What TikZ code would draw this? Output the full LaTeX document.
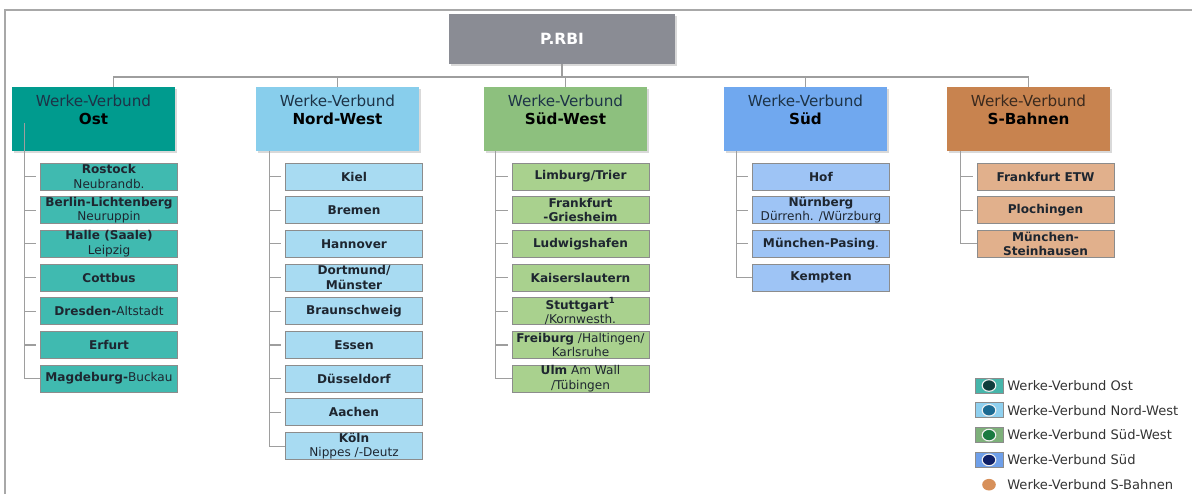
\documentclass[tikz,border=0pt]{standalone}
\usepackage{fontspec}
\setmainfont{DejaVu Sans}
\usetikzlibrary{shadows,shapes.geometric}

\definecolor{rbigray}{HTML}{8A8C94}
\definecolor{ostdark}{HTML}{009B8E}
\definecolor{ostlight}{HTML}{40BAB0}
\definecolor{nwdark}{HTML}{88CEEC}
\definecolor{nwlight}{HTML}{A8DBF2}
\definecolor{swdark}{HTML}{8DC07E}
\definecolor{swlight}{HTML}{A9D18E}
\definecolor{sueddark}{HTML}{70A8EF}
\definecolor{suedlight}{HTML}{9EC4F5}
\definecolor{sbdark}{HTML}{C8834F}
\definecolor{sblight}{HTML}{E1B08C}
\definecolor{linegray}{HTML}{9E9E9E}
\definecolor{framegray}{HTML}{A8A8A8}
\definecolor{kidline}{HTML}{8C8C8C}
\definecolor{headtext}{HTML}{1D3347}
\definecolor{sbtext}{HTML}{3B2A1E}
\definecolor{kidtext}{HTML}{1E2630}
\definecolor{legtextgray}{HTML}{333333}
\definecolor{ostleg}{HTML}{46B5AA}
\definecolor{nwleg}{HTML}{8FD0EF}
\definecolor{swleg}{HTML}{7DB07A}
\definecolor{suedleg}{HTML}{6E9FE9}
\definecolor{ostdot}{HTML}{0F3D3C}
\definecolor{nwdot}{HTML}{1B6A92}
\definecolor{swdot}{HTML}{1A7A40}
\definecolor{sueddot}{HTML}{0E1F66}
\definecolor{sbdot}{HTML}{D7905A}

% text of a Werke-Verbund box, set at its top
\newcommand{\verbund}[2][headtext]{\parbox[c][1.6cm][t]{4.075cm}{\vspace*{6pt}\centering
  \fontsize{10.8}{12.2}\selectfont{\color{#1}Werke-Verbund}\\\textbf{#2}}}

\begin{document}
\begin{tikzpicture}[x=0.025cm,y=-0.025cm,
    conn/.style={draw=linegray,line width=0.75pt},
    head/.style={fill=rbigray,text=white,font=\bfseries\fontsize{11}{13}\selectfont,
      minimum width=5.65cm,minimum height=1.25cm,
      drop shadow={shadow xshift=1.2pt,shadow yshift=-1.2pt,opacity=0.3}},
    verbundbox/.style={inner sep=0pt,
      drop shadow={shadow xshift=1.2pt,shadow yshift=-1.2pt,opacity=0.3}},
    kid/.style={draw=kidline,line width=0.6pt,minimum width=3.425cm,minimum height=0.675cm,
      inner sep=0pt,align=center,text=kidtext,font=\fontsize{8.6}{10.3}\selectfont},
    legbox/.style={draw=kidline,line width=0.5pt,minimum width=0.7cm,minimum height=0.375cm,inner sep=0pt},
    legdot/.style={ellipse,draw=white!88!gray,line width=0.8pt,minimum width=0.34cm,minimum height=0.29cm,inner sep=0pt},
    legtext/.style={anchor=west,inner sep=0pt,text=legtextgray,font=\fontsize{9.3}{11}\selectfont}]

    \useasboundingbox (0,0) rectangle (1192,494);
    %frame
    \draw[framegray,line width=0.8pt] (5,494) -- (5,10) -- (1192,10);

    %top and Werke-Verbund boxes
    \node[head] (prbi) at (562,39) {P.RBI};
    \node[verbundbox,fill=ostdark] (ost) at (93.5,119) {\verbund{Ost}};
    \node[verbundbox,fill=nwdark] (nw) at (337.5,119) {\verbund{Nord-West}};
    \node[verbundbox,fill=swdark] (sw) at (565.5,119) {\verbund{Süd-West}};
    \node[verbundbox,fill=sueddark] (sued) at (805.5,119) {\verbund{Süd}};
    \node[verbundbox,fill=sbdark] (sb) at (1028.5,119) {\verbund[sbtext]{S-Bahnen}};

    \coordinate (bus) at (0,77);
    \draw[conn] (prbi.south) -- (prbi.south |- bus);
    \draw[conn] ([xshift=0.49cm]ost.north) |- (sb.north |- bus) -- (sb.north);
    \foreach \v in {nw,sw,sued}
        \draw[conn] (\v.north) -- (\v.north |- bus);

    %Werke
    \foreach \txt [count=\i] in {{\textbf{Rostock}\\Neubrandb.},{\textbf{Berlin-Lichtenberg}\\Neuruppin},
        {\textbf{Halle (Saale)}\\Leipzig},{\textbf{Cottbus}},{\textbf{Dresden-}Altstadt},
        {\textbf{Erfurt}},{\textbf{Magdeburg-}Buckau}}
        \node[kid,fill=ostlight] (ost\i) at (109,{176.5+33.7*(\i-1)}) {\txt};
    \foreach \txt [count=\i] in {{\textbf{Kiel}},{\textbf{Bremen}},{\textbf{Hannover}},
        {\textbf{Dortmund/}\\\textbf{Münster}},{\textbf{Braunschweig}},{\textbf{Essen}},
        {\textbf{Düsseldorf}},{\textbf{Aachen}},{\textbf{Köln}\\Nippes /-Deutz}}
        \node[kid,fill=nwlight] (nw\i) at (354,{176.5+33.7*(\i-1)}) {\txt};
    \foreach \txt [count=\i] in {{\textbf{Limburg/Trier}},{\textbf{Frankfurt}\\\textbf{-Griesheim}},
        {\textbf{Ludwigshafen}},{\textbf{Kaiserslautern}},{\textbf{Stuttgart\textsuperscript{1}}\\/Kornwesth.},
        {\textbf{Freiburg} /Haltingen/\\Karlsruhe},{\textbf{Ulm} Am Wall\\/Tübingen}}
        \node[kid,fill=swlight] (sw\i) at (580.5,{176.5+33.7*(\i-1)}) {\txt};
    \foreach \txt [count=\i] in {{\textbf{Hof}},{\textbf{Nürnberg}\\Dürrenh. /Würzburg},
        {\textbf{München-Pasing}.},{\textbf{Kempten}}}
        \node[kid,fill=suedlight] (sued\i) at (821,{176.5+33.7*(\i-1)}) {\txt};
    \foreach \txt [count=\i] in {{\textbf{Frankfurt ETW}},{\textbf{Plochingen}},
        {\textbf{München-}\\\textbf{Steinhausen}}}
        \node[kid,fill=sblight] (sb\i) at (1045.5,{176.5+33.7*(\i-1)}) {\txt};

    %spines
    \draw[conn] ([xshift=-0.39cm,yshift=0.7cm]ost1.west |- ost.south) |- (ost7.west);
    \foreach \i in {1,...,6}
        \draw[conn] ([xshift=-0.39cm]ost\i.west) -- ([xshift=-0.1cm]ost\i.west);
    \foreach \col/\n in {nw/9,sw/7,sued/4,sb/3} {
        \draw[conn] ([xshift=-0.39cm]\col1.west |- \col.south) |- (\col\n.west);
        \foreach \i in {1,...,\n}
            \draw[conn] ([xshift=-0.39cm]\col\i.west) -- ([xshift=-0.1cm]\col\i.west);
    }

    %legend
    \foreach \fc/\dc/\txt [count=\i] in {ostleg/ostdot/Ost,nwleg/nwdot/Nord-West,
        swleg/swdot/Süd-West,suedleg/sueddot/Süd} {
        \node[legbox,fill=\fc] (legbox\i) at (989,{385.5+24.8*(\i-1)}) {};
        \node[legdot,fill=\dc] (legdot\i) at (legbox\i) {};
        \node[legtext] (leg\i) at (1007,{385.5+24.8*(\i-1)}) {Werke-Verbund \txt};
    }
    \node[legdot,fill=sbdot,draw=none] (legdot5) at (989,484.7) {};
    \node[legtext] (leg5) at (1007,484.7) {Werke-Verbund S-Bahnen};
\end{tikzpicture}
\end{document}
